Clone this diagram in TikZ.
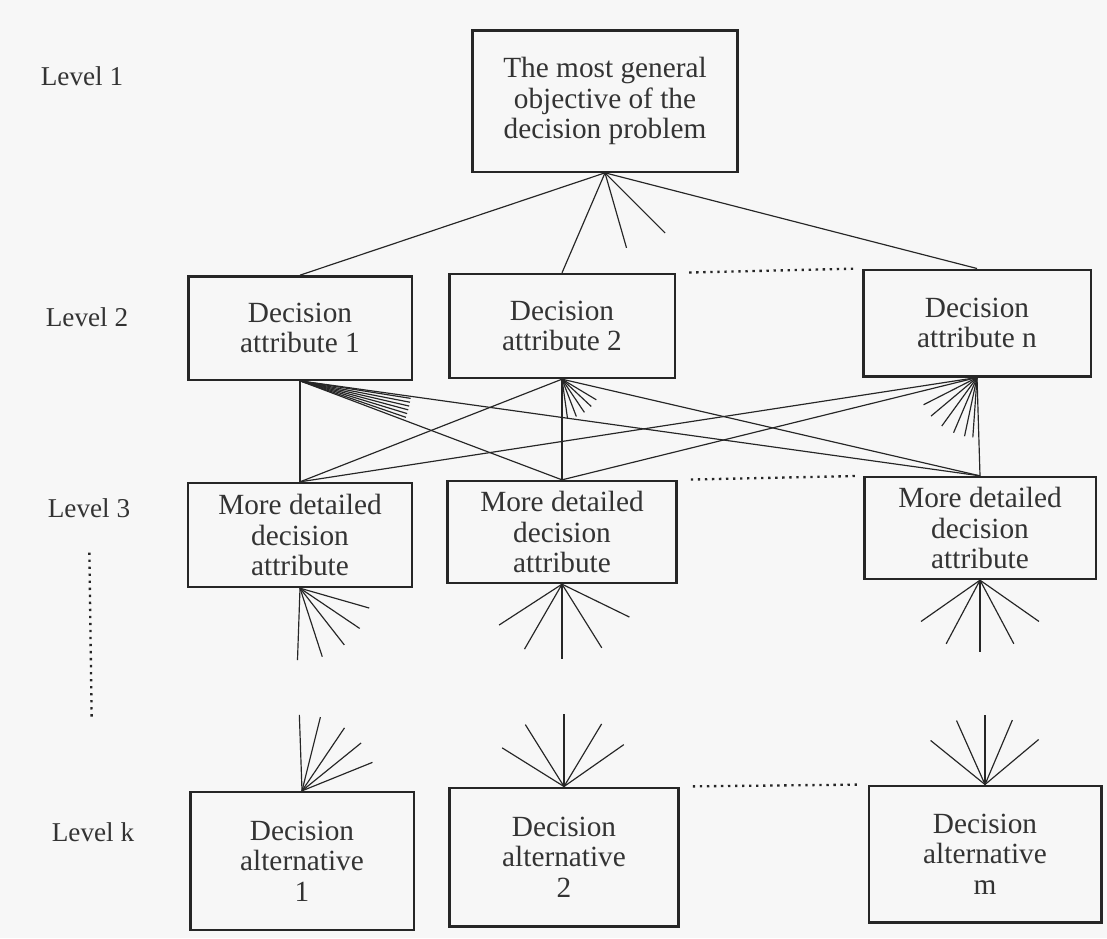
\documentclass[tikz,border=0pt]{standalone}
\usepackage{fontspec}
\setmainfont{Liberation Serif}
\begin{document}
\begin{tikzpicture}[x=0.015cm, y=-0.015cm,
  box/.style={draw=black!85, line width=1pt, align=center, inner sep=0pt,
    font=\fontsize{12.5}{13}\selectfont, text=black!80},
  lvl/.style={font=\fontsize{11.6}{13}\selectfont, text=black!80},
  link/.style={draw=black!85, line width=0.5pt},
  gap/.style={draw=black!85, line width=1pt, dotted}]

\fill[black!3] (0,0) rectangle (1107,938);
\useasboundingbox (0,0) rectangle (1107,938);

% levels
\node [lvl] (L1) at (82, 76) {Level 1};
\node [lvl] (L2) at (87, 317) {Level 2};
\node [lvl] (L3) at (89, 508) {Level 3};
\node [lvl] (Lk) at (93, 832) {Level k};
\draw [gap, shorten <=0.4cm, shorten >=1.42cm] (L3.south) -- (Lk.north);

% level 1
\node [box, minimum width=3.97cm, minimum height=2.12cm] (top) at (605, 101)
  {The most general\\objective of the\\decision problem};

% level 2
\node [box, minimum width=3.35cm, minimum height=1.55cm] (A1) at (300, 328)
  {Decision\\attribute 1};
\node [box, minimum width=3.38cm, minimum height=1.56cm] (A2) at (562, 326)
  {Decision\\attribute 2};
\node [box, minimum width=3.41cm, minimum height=1.6cm] (An) at (977, 323)
  {Decision\\attribute n};

% level 3
\node [box, minimum width=3.36cm, minimum height=1.56cm] (B1) at (300, 535)
  {More detailed\\decision\\attribute};
\node [box, minimum width=3.43cm, minimum height=1.53cm] (B2) at (562, 532)
  {More detailed\\decision\\attribute};
\node [box, minimum width=3.47cm, minimum height=1.53cm] (Bn) at (980, 528)
  {More detailed\\decision\\attribute};

% level k
\node [box, minimum width=3.35cm, minimum height=2.07cm] (C1) at (302, 861)
  {Decision\\alternative\\1};
\node [box, minimum width=3.43cm, minimum height=2.08cm] (C2) at (564, 857)
  {Decision\\alternative\\2};
\node [box, minimum width=3.49cm, minimum height=2.05cm] (Cm) at (985, 854)
  {Decision\\alternative\\m};

% gaps between columns
\draw [gap, shorten <=0.2cm, shorten >=0.1cm] (A2.north east) -- (An.north west);
\draw [gap, shorten <=0.2cm, shorten >=0.1cm] (B2.north east) -- (Bn.north west);
\draw [gap, shorten <=0.2cm, shorten >=0.1cm] (C2.north east) -- (Cm.north west);

% level 1 to level 2
\foreach \a in {A1,A2,An}
  \draw [link] (top.south) -- (\a.north);
\foreach \ang/\len in {74/78, 45/85}
  \draw [link] (top.south) -- ++(\ang:\len);

% level 2 to level 3
\foreach \a in {A1,A2,An}
  \foreach \b in {B1,B2,Bn}
    \draw [link] (\a.south) -- (\b.north);
\foreach \ang in {9,11,13,15,17,19}
  \draw [link] (A1.south) -- ++(\ang:112);
\foreach \ang in {82,69,56,43,31}
  \draw [link] (A2.south) -- ++(\ang:40);
\foreach \ang in {153,140,126,113,102,94}
  \draw [link] (An.south) -- ++(\ang:60);

% fans below level 3
\foreach \ang in {92,72,52,34,16}
  \draw [link] (B1.south) -- ++(\ang:72);
\foreach \ang in {147,120,90,58,26}
  \draw [link] (B2.south) -- ++(\ang:75);
\foreach \ang in {145,118,90,62,35}
  \draw [link] (Bn.south) -- ++(\ang:72);

% fans above level k
\foreach \ang in {-92,-76,-56,-39,-22}
  \draw [link] (C1.north) -- ++(\ang:76);
\foreach \ang in {-148,-122,-90,-59,-35}
  \draw [link] (C2.north) -- ++(\ang:73);
\foreach \ang in {-141,-114,-90,-67,-40}
  \draw [link] (Cm.north) -- ++(\ang:70);

\end{tikzpicture}
\end{document}
